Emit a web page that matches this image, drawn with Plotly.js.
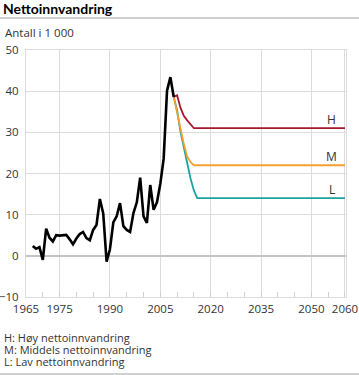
<!DOCTYPE html>
<html><head><meta charset="utf-8">
<script src="https://cdn.plot.ly/plotly-3.0.1.min.js"></script>
<style>html,body{margin:0;padding:0;background:#fff}#chart{width:359px;height:375px}</style>
</head><body><div id="chart"></div>
<script>
const histYears = [1967,1968,1969,1970,1971,1972,1973,1974,1975,1976,1977,1978,1979,1980,1981,1982,1983,1984,1985,1986,1987,1988,1989,1990,1991,1992,1993,1994,1995,1996,1997,1998,1999,2000,2001,2002,2003,2004,2005,2006,2007,2008,2009];
const histValues = [2.4,1.7,2.1,-1.0,6.6,4.4,3.5,5.0,4.9,5.0,5.1,4.0,2.8,4.2,5.3,5.8,4.3,3.8,6.3,7.5,13.8,10.3,-1.4,1.6,8.1,9.6,12.8,7.2,6.3,5.8,10.4,13.0,19.0,9.6,8.0,17.2,11.2,13.0,17.5,23.6,40.1,43.4,38.6];
const projYearsHM = [2009,2010,2011,2012,2013,2014,2015,2060];
const highValues = [38.6,39.0,36.0,34.0,32.9,31.9,31.0,31.0];
const midValues = [38.6,34.5,30.6,27.2,24.1,22.8,22.0,22.0];
const projYearsL = [2009,2010,2011,2012,2013,2014,2015,2016,2060];
const lowValues = [38.6,35.3,30.2,26.3,22.4,18.8,15.9,14.0,14.0];
const xTicks = [1965,1975,1990,2005,2020,2035,2050,2060];
const yTicks = [-10,0,10,20,30,40,50];
const scenarioLabels = ['H','M','L'];
const legendLines = ['H: Høy nettoinnvandring','M: Middels nettoinnvandring','L: Lav nettoinnvandring'];

const font = 'Open Sans, DejaVu Sans, sans-serif';
const PW = 320, PH = 247;
const traces = [
  {x: projYearsL, y: lowValues, mode:'lines', line:{color:'#1aa3a0', width:1.8}, hoverinfo:'skip'},
  {x: projYearsHM, y: midValues, mode:'lines', line:{color:'#f5a031', width:1.8}, hoverinfo:'skip'},
  {x: projYearsHM, y: highValues, mode:'lines', line:{color:'#a8172d', width:1.8}, hoverinfo:'skip'},
  {x: histYears, y: histValues, mode:'lines', line:{color:'#000', width:2.6}, hoverinfo:'skip'}
];
const lastH = highValues[highValues.length-1], lastM = midValues[midValues.length-1], lastL = lowValues[lowValues.length-1];
const annotations = [
  {xref:'paper', yref:'paper', x:-23/PW, y:1+17/PH, xanchor:'left', yanchor:'middle', text:'Antall i 1 000', showarrow:false, font:{family:font, size:11.5, color:'#333'}},
  {x:2056, y:lastH, yshift:9, text:scenarioLabels[0], showarrow:false, font:{family:font, size:12, color:'#333'}},
  {x:2056, y:lastM, yshift:9, text:scenarioLabels[1], showarrow:false, font:{family:font, size:12, color:'#333'}},
  {x:2056, y:lastL, yshift:9, text:scenarioLabels[2], showarrow:false, font:{family:font, size:12, color:'#333'}}
];
legendLines.forEach((t,i)=>annotations.push({xref:'paper', yref:'paper', x:-24/PW, y:-(40+12*i)/PH, xanchor:'left', yanchor:'middle', text:t, showarrow:false, font:{family:font, size:11, color:'#333'}}));

const layout = {
  width:359, height:375,
  margin:{l:26, r:13, t:50, b:78, pad:0},
  paper_bgcolor:'#fff', plot_bgcolor:'#fff',
  showlegend:false,
  title:{text:'<b>Nettoinnvandring</b>', x:3/359, xanchor:'left', xref:'container', y:1-9.5/375, yref:'container', yanchor:'middle', font:{family:'Lato, Open Sans, sans-serif', size:14, color:'#000'}},
  xaxis:{range:[1965,2060.3], tickvals:xTicks, showgrid:true, gridcolor:'#dcdcdc', gridwidth:1,
    showline:true, linecolor:'#dcdcdc', linewidth:1, mirror:true,
    ticks:'inside', ticklen:5, tickcolor:'#cfcfcf', ticklabelstandoff:1,
    minor:{dtick:5, tick0:1965, ticks:'inside', ticklen:5, tickcolor:'#cfcfcf', showgrid:false},
    zeroline:false, tickfont:{family:font, size:11.5, color:'#333'}},
  yaxis:{range:[-10,50], tickvals:yTicks, showgrid:true, gridcolor:'#dcdcdc', gridwidth:1,
    showline:true, linecolor:'#dcdcdc', linewidth:1, mirror:true,
    zeroline:true, zerolinecolor:'#c4c4c4', zerolinewidth:2,
    ticks:'', ticklabelstandoff:4, tickfont:{family:font, size:11.5, color:'#333'}},
  annotations: annotations,
  shapes:[
    {type:'line', xref:'paper', yref:'paper', x0:-26/PW, x1:1+13/PW, y0:1+32/PH, y1:1+32/PH, line:{color:'#a0a0a0', width:1}},
    {type:'line', xref:'paper', yref:'paper', x0:-26/PW, x1:1+13/PW, y0:-77/PH, y1:-77/PH, line:{color:'#a0a0a0', width:1}}
  ]
};
Plotly.newPlot('chart', traces, layout, {staticPlot:true, displayModeBar:false});
</script></body></html>
